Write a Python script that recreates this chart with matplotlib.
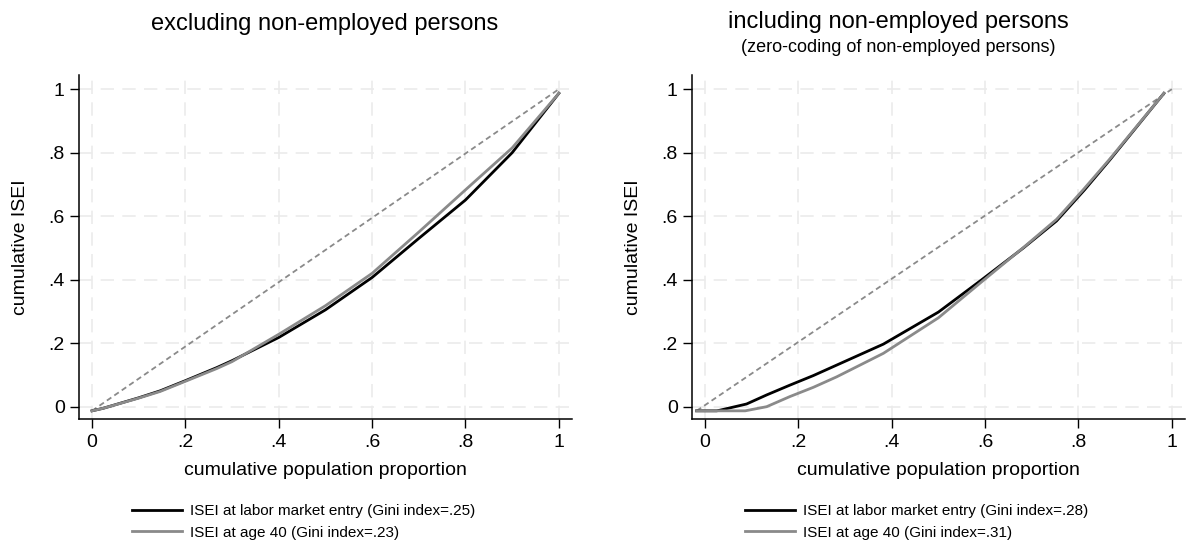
import matplotlib.pyplot as plt

plt.rcParams['font.family'] = ['Liberation Sans', 'DejaVu Sans']

# Lorenz curves, excluding non-employed persons
x_excl = [0.0, 0.024, 0.1, 0.146, 0.2, 0.267, 0.3, 0.4, 0.5, 0.6, 0.7, 0.8, 0.9, 1.0]
entry_excl = [-0.013, -0.005, 0.028, 0.050, 0.082, 0.123, 0.145, 0.218, 0.305, 0.407, 0.530, 0.651, 0.800, 0.987]
age40_excl = [-0.013, -0.005, 0.027, 0.048, 0.080, 0.120, 0.142, 0.228, 0.318, 0.420, 0.550, 0.683, 0.815, 0.987]

# Lorenz curves, including non-employed persons (zero-coded)
x_entry_incl = [-0.018, 0.025, 0.032, 0.089, 0.132, 0.182, 0.232, 0.282, 0.382,
                0.5, 0.592, 0.682, 0.753, 0.813, 0.867, 0.983]
entry_incl = [-0.013, -0.013, -0.011, 0.0085, 0.037, 0.068, 0.098, 0.131, 0.197,
              0.298, 0.399, 0.500, 0.585, 0.683, 0.777, 0.987]
x_age40_incl = [-0.018, 0.086, 0.132, 0.182, 0.232, 0.282, 0.382, 0.5, 0.594,
                0.685, 0.753, 0.81, 0.867, 0.983]
age40_incl = [-0.013, -0.013, 0.0, 0.032, 0.061, 0.094, 0.168, 0.280, 0.395,
              0.505, 0.590, 0.683, 0.780, 0.987]

# line of equality
eq_excl_x = [0.0, 1.0]
eq_excl_y = [-0.013, 1.0]
eq_incl_x = [-0.018, 1.0]
eq_incl_y = [-0.013, 1.0]

gini_excl = ['.25', '.23']
gini_incl = ['.28', '.31']

ticks = [0, 0.2, 0.4, 0.6, 0.8, 1.0]
tick_labels = ['0', '.2', '.4', '.6', '.8', '1']

W, H = 1187, 552
fig = plt.figure(figsize=(W / 100, H / 100), dpi=100)
ax1 = fig.add_axes([79.4 / W, 132.6 / H, 493 / W, 344.2 / H])
ax2 = fig.add_axes([692.4 / W, 132.6 / H, 493 / W, 344.2 / H])

grey = '#8a8a8a'


def style(ax):
    ax.set_xlim(-0.027, 1.029)
    ax.set_ylim(-0.04, 1.044)
    ax.set_xticks(ticks)
    ax.set_xticklabels(tick_labels)
    ax.set_yticks(ticks)
    ax.set_yticklabels(tick_labels)
    for s in ['top', 'right']:
        ax.spines[s].set_visible(False)
    for s in ['left', 'bottom']:
        ax.spines[s].set_linewidth(1.1)
    ax.tick_params(direction='out', length=6.5, width=1, labelsize=14, pad=4)
    ax.grid(True, color='#ebebeb', linestyle=(0, (8, 5)), linewidth=1.2)
    ax.set_axisbelow(True)
    ax.set_xlabel('cumulative population proportion', fontsize=14, labelpad=8)
    ax.set_ylabel('cumulative ISEI', fontsize=14, labelpad=14)


style(ax1)
style(ax2)

ax1.plot(eq_excl_x, eq_excl_y, color=grey, lw=1.3, ls=(0, (3, 2)))
l1, = ax1.plot(x_excl, entry_excl, color='black', lw=2,
               label=f'ISEI at labor market entry (Gini index={gini_excl[0]})')
l2, = ax1.plot(x_excl, age40_excl, color=grey, lw=2,
               label=f'ISEI at age 40 (Gini index={gini_excl[1]})')

ax2.plot(eq_incl_x, eq_incl_y, color=grey, lw=1.3, ls=(0, (3, 2)))
r1, = ax2.plot(x_entry_incl, entry_incl, color='black', lw=2,
               label=f'ISEI at labor market entry (Gini index={gini_incl[0]})')
r2, = ax2.plot(x_age40_incl, age40_incl, color=grey, lw=2,
               label=f'ISEI at age 40 (Gini index={gini_incl[1]})')

fig.text(325 / W, 1 - 24 / H, 'excluding non-employed persons', ha='center', va='center', fontsize=17)
fig.text(898 / W, 1 - 22 / H, 'including non-employed persons', ha='center', va='center', fontsize=17)
fig.text(898 / W, 1 - 47 / H, '(zero-coding of non-employed persons)', ha='center', va='center', fontsize=13)

leg_kw = dict(loc='upper left', frameon=False, fontsize=11, handlelength=3.3,
              handletextpad=0.5, labelspacing=0.5, borderpad=0, borderaxespad=0)
fig.legend(handles=[l1, l2], bbox_to_anchor=(132 / W, 1 - 504 / H), **leg_kw)
fig.legend(handles=[r1, r2], bbox_to_anchor=(745 / W, 1 - 504 / H), **leg_kw)

fig.savefig('out.png', dpi=100)
